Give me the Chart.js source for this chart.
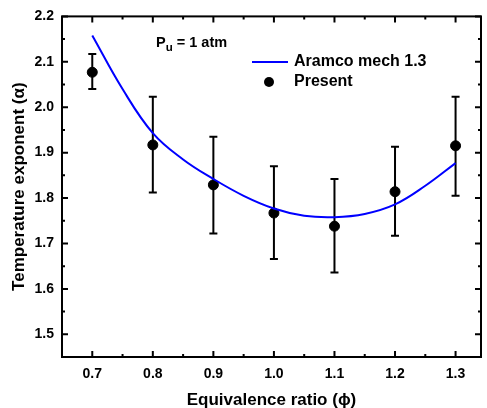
<!DOCTYPE html>
<html>
<head>
<meta charset="utf-8">
<script src="https://cdn.jsdelivr.net/npm/chart.js@4.4.1/dist/chart.umd.min.js"></script>
<style>
  body { margin: 0; background: #fff; }
  #wrap { width: 487px; height: 408px; }
</style>
</head>
<body>
<div id="wrap"><canvas id="chart" width="487" height="408"></canvas></div>
<script>
// measured points (Present)
const phi = [0.7, 0.8, 0.9, 1.0, 1.1, 1.2, 1.3];
const alphaPresent = [2.077, 1.917, 1.829, 1.767, 1.738, 1.814, 1.915];
const errLow = [2.040, 1.812, 1.722, 1.666, 1.636, 1.717, 1.805];
const errHigh = [2.117, 2.023, 1.935, 1.870, 1.842, 1.913, 2.023];

// Aramco mech 1.3 curve
const phiModel = [0.7, 0.75, 0.8, 0.85, 0.9, 0.95, 1.0, 1.05, 1.1, 1.15, 1.2, 1.25, 1.3];
const alphaModel = [2.158, 2.04, 1.943, 1.885, 1.842, 1.805, 1.777, 1.761, 1.758, 1.765, 1.786, 1.827, 1.877];

const xTicks = [0.7, 0.8, 0.9, 1.0, 1.1, 1.2, 1.3];
const xMinor = [0.75, 0.85, 0.95, 1.05, 1.15, 1.25];
const yTicks = [1.5, 1.6, 1.7, 1.8, 1.9, 2.0, 2.1, 2.2];
const yMinor = [1.55, 1.65, 1.75, 1.85, 1.95, 2.05, 2.15];

const FONT = "'Liberation Sans', Arial, sans-serif";

const framePlugin = {
    id: 'frame',
    beforeDatasetsDraw(chart) {
        // error bars under the markers
        const ctx = chart.ctx;
        const xs = chart.scales.x, ys = chart.scales.y;
        ctx.save();
        ctx.strokeStyle = '#000';
        ctx.lineWidth = 2;
        phi.forEach((p, i) => {
            let px = xs.getPixelForValue(p);
            let y1 = ys.getPixelForValue(errLow[i]);
            let y2 = ys.getPixelForValue(errHigh[i]);
            ctx.beginPath();
            ctx.moveTo(px, y1); ctx.lineTo(px, y2);
            ctx.moveTo(px - 4, y1); ctx.lineTo(px + 4, y1);
            ctx.moveTo(px - 4, y2); ctx.lineTo(px + 4, y2);
            ctx.stroke();
        });
        ctx.restore();
    },
    afterDraw(chart) {
        const ctx = chart.ctx;
        const a = chart.chartArea;
        const xs = chart.scales.x, ys = chart.scales.y;
        ctx.save();
        ctx.strokeStyle = '#000';
        ctx.lineWidth = 2;
        ctx.strokeRect(a.left, a.top, a.right - a.left, a.bottom - a.top);

        ctx.beginPath();
        const tickX = (v, len) => {
            let px = xs.getPixelForValue(v);
            ctx.moveTo(px, a.bottom); ctx.lineTo(px, a.bottom - len);
            ctx.moveTo(px, a.top); ctx.lineTo(px, a.top + len);
        };
        const tickY = (v, len) => {
            let py = ys.getPixelForValue(v);
            ctx.moveTo(a.left, py); ctx.lineTo(a.left + len, py);
            ctx.moveTo(a.right, py); ctx.lineTo(a.right - len, py);
        };
        xTicks.forEach(v => tickX(v, 6));
        xMinor.forEach(v => tickX(v, 3));
        yTicks.forEach(v => tickY(v, 6));
        yMinor.forEach(v => tickY(v, 3));
        ctx.stroke();

        // legend
        const model = chart.data.datasets[0], pres = chart.data.datasets[1];
        ctx.font = 'bold 16px ' + FONT;
        ctx.textBaseline = 'middle';
        ctx.fillStyle = '#000';
        ctx.strokeStyle = model.borderColor;
        ctx.lineWidth = 2;
        ctx.beginPath();
        ctx.moveTo(252, 62); ctx.lineTo(288, 62);
        ctx.stroke();
        ctx.fillText(model.label, 294, 62);
        ctx.beginPath();
        ctx.arc(269, 82, 5, 0, Math.PI * 2);
        ctx.fill();
        ctx.fillText(pres.label, 294, 82);

        // annotation
        ctx.font = 'bold 14.5px ' + FONT;
        ctx.textBaseline = 'alphabetic';
        ctx.fillText('P', 156, 47);
        let w = ctx.measureText('P').width;
        ctx.font = 'bold 11.5px ' + FONT;
        ctx.fillText('u', 156 + w, 51);
        let w2 = ctx.measureText('u').width;
        ctx.font = 'bold 14.5px ' + FONT;
        ctx.fillText(' = 1 atm', 156 + w + w2, 47);
        ctx.restore();
    }
};

new Chart(document.getElementById('chart').getContext('2d'), {
    type: 'scatter',
    data: {
        datasets: [{
            label: 'Aramco mech 1.3',
            type: 'line',
            data: phiModel.map((p, i) => ({ x: p, y: alphaModel[i] })),
            borderColor: '#0000ff',
            borderWidth: 2,
            pointRadius: 0,
            fill: false,
            tension: 0.4
        }, {
            label: 'Present',
            data: phi.map((p, i) => ({ x: p, y: alphaPresent[i] })),
            backgroundColor: '#000',
            borderColor: '#000',
            pointRadius: 5,
            showLine: false
        }]
    },
    options: {
        responsive: false,
        animation: false,
        devicePixelRatio: 1,
        layout: { padding: { top: 16, right: 3, left: 0, bottom: 0 } },
        plugins: { legend: { display: false }, tooltip: { enabled: false } },
        scales: {
            x: {
                type: 'linear',
                min: 0.65,
                max: 1.342,
                grid: { display: false, drawTicks: false },
                border: { display: false },
                afterBuildTicks: s => { s.ticks = xTicks.map(v => ({ value: v })); },
                afterFit: s => { s.height = 51; },
                ticks: {
                    color: '#000',
                    padding: 9,
                    maxRotation: 0,
                    font: { family: FONT, size: 14, weight: 'bold' },
                    callback: v => v.toFixed(1)
                },
                title: {
                    display: true,
                    text: 'Equivalence ratio (\u03d5)',
                    color: '#000',
                    padding: { top: 0, bottom: -3 },
                    font: { family: FONT, size: 17, weight: 'bold' }
                }
            },
            y: {
                min: 1.45,
                max: 2.2,
                grid: { display: false, drawTicks: false },
                border: { display: false },
                afterBuildTicks: s => { s.ticks = yTicks.map(v => ({ value: v })); },
                afterFit: s => { s.width = 62; },
                ticks: {
                    color: '#000',
                    padding: 8,
                    font: { family: FONT, size: 14, weight: 'bold' },
                    callback: v => v.toFixed(1)
                },
                title: {
                    display: true,
                    text: 'Temperature exponent (\u03b1)',
                    color: '#000',
                    padding: { top: 9.5, bottom: 0 },
                    font: { family: FONT, size: 17, weight: 'bold' }
                }
            }
        }
    },
    plugins: [framePlugin]
});
</script>
</body>
</html>
